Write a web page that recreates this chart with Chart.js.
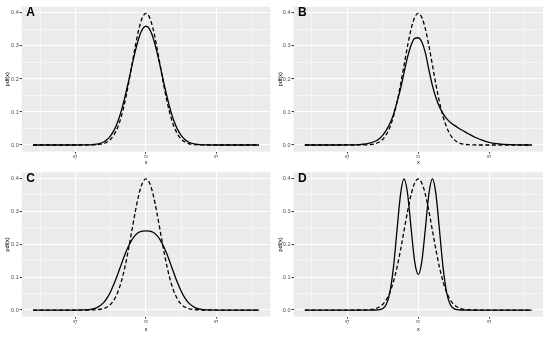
<!DOCTYPE html>
<html>
<head>
<meta charset="utf-8">
<script src="https://cdn.jsdelivr.net/npm/chart.js@4.4.1/dist/chart.umd.min.js"></script>
<style>
  html, body { margin: 0; padding: 0; background: #fff; }
  #wrap { position: relative; width: 550px; height: 337px; overflow: hidden; }
  canvas { position: absolute; }
</style>
</head>
<body>
<div id="wrap"></div>
<script>
// x grid shared by every curve
const xs = [-8, -7, -6, -5.5, -5, -4.5, -4, -3.5, -3,
  -2.75, -2.5, -2.25, -2, -1.75, -1.5, -1.25, -1, -0.75, -0.5, -0.25, 0,
  0.25, 0.5, 0.75, 1, 1.25, 1.5, 1.75, 2, 2.25, 2.5, 2.75,
  3, 3.5, 4, 4.5, 5, 5.5, 6, 7, 8];

// dashed reference curve (same in all four panels)
const dashedRef = [0, 0, 0, 0, 0, 0, 0.0001, 0.0009, 0.0044,
  0.0091, 0.0175, 0.0317, 0.054, 0.0863, 0.1295, 0.1826, 0.242, 0.3011, 0.3521, 0.3867, 0.3989,
  0.3867, 0.3521, 0.3011, 0.242, 0.1826, 0.1295, 0.0863, 0.054, 0.0317, 0.0175, 0.0091,
  0.0044, 0.0009, 0.0001, 0, 0, 0, 0, 0, 0];

// solid curves, one per panel
const solidA = [0, 0, 0, 0, 0, 0.0001, 0.0005, 0.0025, 0.0092,
  0.0165, 0.0282, 0.0458, 0.0706, 0.1034, 0.144, 0.1905, 0.2396, 0.286, 0.325, 0.351, 0.36,
  0.351, 0.325, 0.286, 0.2396, 0.1905, 0.144, 0.1034, 0.0706, 0.0458, 0.0282, 0.0165,
  0.0092, 0.0025, 0.0005, 0.0001, 0, 0, 0, 0, 0];

const solidB = [0, 0, 0, 0, 0.0001, 0.0005, 0.002, 0.005, 0.012,
  0.019, 0.03, 0.045, 0.065, 0.092, 0.13, 0.17, 0.22, 0.267, 0.303, 0.323, 0.325,
  0.312, 0.28, 0.228, 0.18, 0.143, 0.115, 0.095, 0.08, 0.069, 0.061, 0.054,
  0.047, 0.035, 0.0235, 0.0145, 0.008, 0.004, 0.002, 0.0003, 0];

const solidC = [0, 0, 0, 0, 0, 0.0002, 0.0014, 0.0066, 0.0226,
  0.0371, 0.0566, 0.0812, 0.1091, 0.1389, 0.168, 0.193, 0.2133, 0.2279, 0.2365, 0.2403, 0.241,
  0.2403, 0.2365, 0.2279, 0.2133, 0.193, 0.168, 0.1389, 0.1091, 0.0812, 0.0566, 0.0371,
  0.0226, 0.0066, 0.0014, 0.0002, 0, 0, 0, 0, 0];

const solidD = [0, 0, 0, 0, 0, 0, 0, 0, 0.0001,
  0.0009, 0.0044, 0.0175, 0.054, 0.1296, 0.242, 0.352, 0.399, 0.353, 0.2464, 0.147, 0.108,
  0.147, 0.2464, 0.353, 0.399, 0.352, 0.242, 0.1296, 0.054, 0.0175, 0.0044, 0.0009,
  0.0001, 0, 0, 0, 0, 0, 0, 0, 0];

const panelLabels = ["A", "B", "C", "D"];
const xMajor = [-5, 0, 5];
const xMinor = [-7.5, -2.5, 2.5, 7.5];
const yMajor = [0, 0.1, 0.2, 0.3, 0.4];
const yMinor = [0.05, 0.15, 0.25, 0.35];

// panel placement (page px) and plot area inside each canvas
const layout = [
  { left: 0,   top: 0,   w: 275, h: 168, l: 21.7, r: 270.3, t: 6.7, b: 151.6, yT: 7.3, xT: 5.5 },
  { left: 275, top: 0,   w: 275, h: 168, l: 18.5, r: 268,   t: 6.7, b: 151.6, yT: 5,   xT: 5.5 },
  { left: 0,   top: 168, w: 275, h: 169, l: 21.7, r: 270.3, t: 3.7, b: 148.6, yT: 7.3, xT: 8 },
  { left: 275, top: 168, w: 275, h: 169, l: 18.5, r: 268,   t: 3.7, b: 148.6, yT: 5,   xT: 8 },
];
const solids = [solidA, solidB, solidC, solidD];

const tickFont = { family: "'Liberation Sans', Arial, sans-serif", size: 5.5 };
const titleFont = { family: "'Liberation Sans', Arial, sans-serif", size: 5.5 };

// grey panel background + bold panel letter
const panelPlugin = {
  id: "panel",
  beforeDraw(chart) {
    const a = chart.chartArea;
    const c = chart.ctx;
    c.save();
    c.fillStyle = "#EBEBEB";
    c.fillRect(a.left, a.top, a.right - a.left, a.bottom - a.top);
    c.restore();
  },
  afterDraw(chart, args, opts) {
    const c = chart.ctx;
    const y = chart.scales.y.getPixelForValue(0.4);
    c.save();
    c.fillStyle = "#000";
    c.font = "bold 12px 'Liberation Sans', Arial, sans-serif";
    c.textBaseline = "middle";
    c.textAlign = "left";
    c.fillText(opts.label, chart.chartArea.left + 4.5, y);
    c.restore();
  },
};

const isIn = (arr, v) => arr.some(m => Math.abs(m - v) < 1e-9);

const wrap = document.getElementById("wrap");

layout.forEach((p, i) => {
  const cv = document.createElement("canvas");
  cv.width = p.w;
  cv.height = p.h;
  cv.style.left = p.left + "px";
  cv.style.top = p.top + "px";
  wrap.appendChild(cv);

  const toPts = arr => xs.map((x, k) => ({ x: x, y: arr[k] }));

  new Chart(cv.getContext("2d"), {
    type: "line",
    data: {
      datasets: [
        {
          data: toPts(solids[i]),
          borderColor: "#000",
          borderWidth: 1.3,
          pointRadius: 0,
          cubicInterpolationMode: "monotone",
          fill: false,
        },
        {
          data: toPts(dashedRef),
          borderColor: "#000",
          borderWidth: 1.3,
          borderDash: [4, 2.5],
          pointRadius: 0,
          cubicInterpolationMode: "monotone",
          fill: false,
        },
      ],
    },
    options: {
      responsive: false,
      animation: false,
      events: [],
      layout: { padding: { left: 0, right: p.w - p.r, top: p.t, bottom: 0 } },
      plugins: {
        legend: { display: false },
        tooltip: { enabled: false },
        panel: { label: panelLabels[i] },
      },
      scales: {
        x: {
          type: "linear",
          min: -8.8,
          max: 8.8,
          afterBuildTicks: s => {
            s.ticks = [...xMinor, ...xMajor].sort((a, b) => a - b).map(v => ({ value: v }));
          },
          afterFit: s => { s.height = p.h - p.b; },
          border: { display: false },
          grid: {
            color: "#FFFFFF",
            lineWidth: ctx => (isIn(xMajor, ctx.tick.value) ? 1.1 : 0.5),
            tickColor: ctx => (isIn(xMajor, ctx.tick.value) ? "#333333" : "rgba(0,0,0,0)"),
            tickWidth: 1,
            tickLength: 2,
          },
          ticks: {
            autoSkip: false,
            minRotation: 90,
            maxRotation: 90,
            padding: 1,
            color: "#4D4D4D",
            font: tickFont,
            callback: v => (isIn(xMajor, v) ? String(v) : ""),
          },
          title: {
            display: true,
            text: "x",
            color: "#000",
            font: titleFont,
            padding: { top: 0, bottom: p.xT - 3.3 },
          },
        },
        y: {
          type: "linear",
          min: -0.02,
          max: 0.419,
          afterBuildTicks: s => {
            s.ticks = [...yMajor, ...yMinor].sort((a, b) => a - b).map(v => ({ value: v }));
          },
          afterFit: s => { s.width = p.l; },
          border: { display: false },
          grid: {
            color: "#FFFFFF",
            lineWidth: ctx => (isIn(yMajor, ctx.tick.value) ? 1.1 : 0.5),
            tickColor: ctx => (isIn(yMajor, ctx.tick.value) ? "#333333" : "rgba(0,0,0,0)"),
            tickWidth: 1,
            tickLength: 2,
          },
          ticks: {
            autoSkip: false,
            padding: 1,
            color: "#4D4D4D",
            font: tickFont,
            callback: v => (isIn(yMajor, v) ? v.toFixed(1) : ""),
          },
          title: {
            display: true,
            text: "pdf(x)",
            color: "#000",
            font: titleFont,
            padding: { top: p.yT - 3.3, bottom: 0 },
          },
        },
      },
    },
    plugins: [panelPlugin],
  });
});
</script>
</body>
</html>
